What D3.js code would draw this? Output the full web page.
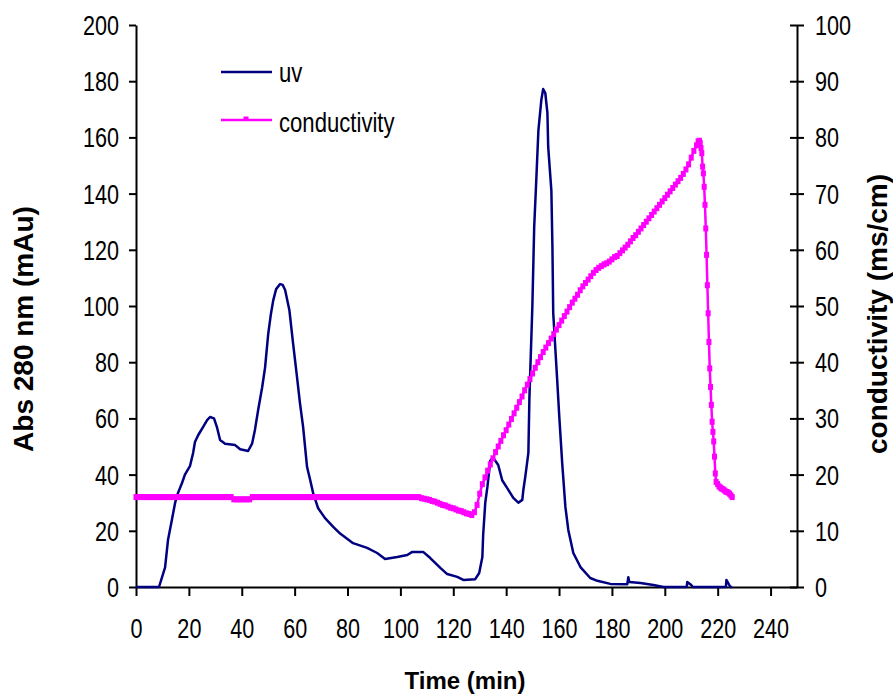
<!DOCTYPE html>
<html><head><meta charset="utf-8">
<script src="https://cdn.jsdelivr.net/npm/d3@7"></script>
<style>body{margin:0;background:#fff}</style>
</head><body>
<svg id="c" width="893" height="697"></svg>
<script>
const xTicks = [0,20,40,60,80,100,120,140,160,180,200,220,240];
const leftTicks = [0,20,40,60,80,100,120,140,160,180,200];
const rightTicks = [0,10,20,30,40,50,60,70,80,90,100];
const seriesNames = ["uv","conductivity"];
const axisTitles = ["Time (min)","Abs 280 nm (mAu)","conductivity (ms/cm)"];

const uvTime = [0,8.7,11,12.1,13.6,14.8,15.9,17.4,18.5,20.4,21.6,22.3,23.5,25.4,26.9,28,29.5,30.7,31.8,33.7,37.5,39.4,42.4,43.9,45,46.2,47.7,48.8,50,51,51.9,53,54.5,55.5,56.4,58,59.4,60.9,62,63.2,64.7,65.9,67,68.9,71.5,74.6,77.2,82.1,87.4,91.2,94.2,98.8,102.6,104.5,108.6,111.3,115.1,117.7,121.5,123.8,128.3,129.8,131,131.3,132.1,132.9,134,135.1,137,138.5,140.4,142.7,144.6,146.1,146.5,147.2,148.4,148.8,149.9,150.6,151.4,152.2,153.3,154,154.8,155.6,155.9,157.1,157.5,157.8,159.3,160.1,161.2,162.4,163.5,165.4,168.1,171.8,174.5,179.4,185.8,186.2,186.6,190.8,195.7,199.5,208.3,208.5,210,210.6,223.1,223.3,224.8,225.5];
const uvAbs = [0,0,7,16.7,24,30,33.5,37,40,43,47.7,51.6,54,57,59.4,60.5,60,56.6,52.3,51,50.5,49,48.4,51,56,63,71,78,90,97,102,106,107.8,107.5,105.7,98.6,86.8,74.7,65.5,57,42.7,38,33.4,28,24.5,21.4,19,15.6,13.9,12.1,10,10.7,11.4,12.5,12.5,10.3,6.8,4.6,3.6,2.5,2.8,5,10.7,18.5,30,35.6,45,46,43.4,38,35.2,31.7,30,31,34.5,39,47.7,67.6,99.6,128,145,162.6,173.3,177.2,175.8,168.7,156.6,141,121,97.5,73.7,60.5,44,28.5,20.3,12.1,7.1,3.2,2.2,1.1,1,3.5,1.8,1.4,0.7,0,0,1.8,0.7,0,0,2.5,0,0];

const condTime = [
0,1,2,3,4,5,6,7,8,9,10,11,12,13,14,15,16,17,18,19,20,21,22,23,24,25,26,27,28,29,
30,31,32,33,34,35,36,37,38,39,40,41,42,43,44,45,46,47,48,49,50,51,52,53,54,55,56,57,58,59,
60,61,62,63,64,65,66,67,68,69,70,71,72,73,74,75,76,77,78,79,80,81,82,83,84,85,86,87,88,89,
90,91,92,93,94,95,96,97,98,99,100,101,102,103,104,105,106,107,108,109,110,111,112,113,114,115,116,117,118,119,
120,121,122,123,124,125,126,127,128,129,130,131,132,133,134,135,136,137,138,139,140,141,142,143,144,145,146,147,148,149,
150,151,152,153,154,155,156,157,158,159,160,161,162,163,164,165,166,167,168,169,170,171,172,173,174,175,176,177,178,179,
180,181,182,183,184,185,186,187,188,189,190,191,192,193,194,195,196,197,198,199,200,201,202,203,204,205,206,207,208,209,
210,211,212,212.6,213.1,213.4,213.7,214,214.3,214.6,214.9,215.2,215.5,215.8,216.1,216.4,216.7,217,217.3,217.6,217.9,218.2,218.5,218.8,219.1,219.4,
220,220.5,221,221.5,222,222.5,223,223.5,224,224.5,225,225.5];
const condValue = [
16,16,16,16,16,16,16,16,16,16,16,16,16,16,16,16,16,16,16,16,16,16,16,16,16,16,16,16,16,16,
16,16,16,16,16,16,16,15.6,15.6,15.6,15.6,15.6,15.6,15.6,16,16,16,16,16,16,16,16,16,16,16,16,16,16,16,16,
16,16,16,16,16,16,16,16,16,16,16,16,16,16,16,16,16,16,16,16,16,16,16,16,16,16,16,16,16,16,
16,16,16,16,16,16,16,16,16,16,16,16,16,16,16,16,16,16,15.8,15.7,15.6,15.5,15.3,15.2,15,14.8,14.6,14.5,14.3,14.1,
14,13.8,13.6,13.5,13.3,13.1,13,12.8,13.3,14.6,16.6,18.3,19.5,20.7,21.8,22.9,24,25,26,27,27.9,28.9,29.9,30.9,31.9,32.9,33.9,35,36,37,
38,39,40,40.9,41.8,42.6,43.4,44.2,45,45.8,46.6,47.4,48.2,49,49.8,50.6,51.3,52,52.8,53.5,54.1,54.7,55.3,55.9,56.4,56.8,57.1,57.4,57.6,57.9,
58.3,58.7,58.9,59.4,59.9,60.4,60.9,61.5,62.1,62.6,63.2,63.8,64.4,65,65.6,66.2,66.8,67.4,68,68.6,69.2,69.8,70.4,71,71.6,72.2,72.8,73.5,74.3,75.2,
76.4,77.6,78.6,79.3,79.4,79,78.1,77.2,74.8,73.6,71.2,68,63.8,59.1,53.7,48.7,43.6,38.9,35.6,32.4,29.4,27.6,25.9,23.2,20.2,18.7,
18.3,17.9,17.7,17.5,17.4,17.2,17,16.9,16.8,16.6,16.3,16];

const UV_COLOR = "#000080", COND_COLOR = "#FF00FF";
const FONT = '"Liberation Sans", Arial, Helvetica, sans-serif';
const SX = 0.8;

const svg = d3.select("#c");
const x = d3.scaleLinear().domain([0,250]).range([136,797]);
const yL = d3.scaleLinear().domain([0,200]).range([587,25]);
const yR = d3.scaleLinear().domain([0,100]).range([587,25]);

// axes
const gx = svg.append("g").attr("transform","translate(0,587)")
  .call(d3.axisBottom(x).tickValues(xTicks).tickSizeInner(9).tickSizeOuter(0).tickFormat(d3.format("d")));
const gl = svg.append("g").attr("transform","translate(136,0)")
  .call(d3.axisLeft(yL).tickValues(leftTicks).tickSizeInner(7).tickSizeOuter(0).tickFormat(d3.format("d")));
const gr = svg.append("g").attr("transform","translate(797,0)")
  .call(d3.axisRight(yR).tickValues(rightTicks).tickSizeInner(7).tickSizeOuter(0).tickFormat(d3.format("d")));
gr.selectAll(".tick line").attr("x1",-7).attr("x2",7);

[gx,gl,gr].forEach(g=>{
  g.attr("font-family",FONT).attr("font-size",27);
  g.selectAll("path.domain").attr("stroke","#000").attr("stroke-width",2);
  g.selectAll(".tick line").attr("stroke","#000").attr("stroke-width",2);
  g.selectAll(".tick text").attr("fill","#000").attr("transform",`scale(${SX},1)`);
});
gx.selectAll(".tick text").attr("y",51).attr("dy",0);
gl.selectAll(".tick text").attr("x",-17/SX).attr("dy","0.35em");
gr.selectAll(".tick text").attr("x",18/SX).attr("dy","0.35em");

// uv series
const uvIdx = d3.range(uvTime.length);
svg.append("path")
  .attr("d", d3.line().x(i=>x(uvTime[i])).y(i=>yL(uvAbs[i]))(uvIdx))
  .attr("fill","none").attr("stroke",UV_COLOR).attr("stroke-width",2.5)
  .attr("stroke-linejoin","round");

// conductivity series
const cIdx = d3.range(condTime.length);
svg.append("path")
  .attr("d", d3.line().x(i=>x(condTime[i])).y(i=>yR(condValue[i]))(cIdx))
  .attr("fill","none").attr("stroke",COND_COLOR).attr("stroke-width",2.5);
svg.append("g").selectAll("rect").data(cIdx).join("rect")
  .attr("x", i=>x(condTime[i])-2.5).attr("y", i=>yR(condValue[i])-3)
  .attr("width",5).attr("height",6).attr("fill",COND_COLOR);

// legend
const lg = svg.append("g").attr("font-family",FONT).attr("font-size",27).attr("fill","#000");
lg.append("line").attr("x1",221).attr("x2",272).attr("y1",72).attr("y2",72)
  .attr("stroke",UV_COLOR).attr("stroke-width",2.5);
lg.append("text").attr("x",279/0.82).attr("y",82).attr("transform","scale(0.82,1)").text(seriesNames[0]);
lg.append("line").attr("x1",221).attr("x2",272).attr("y1",120).attr("y2",120)
  .attr("stroke",COND_COLOR).attr("stroke-width",2.5);
lg.append("rect").attr("x",243.5).attr("y",116.5).attr("width",5).attr("height",4).attr("fill",COND_COLOR);
lg.append("text").attr("x",279/0.82).attr("y",132).attr("transform","scale(0.82,1)").text(seriesNames[1]);

// axis titles
svg.append("text").attr("x",465).attr("y",689).attr("text-anchor","middle")
  .attr("font-family",FONT).attr("font-weight","bold").attr("font-size",24).text(axisTitles[0]);
svg.append("text").attr("transform","translate(33,329) rotate(-90)").attr("text-anchor","middle")
  .attr("font-family",FONT).attr("font-weight","bold").attr("font-size",28).text(axisTitles[1]);
svg.append("text").attr("transform","translate(887,314) rotate(-90)").attr("text-anchor","middle")
  .attr("font-family",FONT).attr("font-weight","bold").attr("font-size",28).text(axisTitles[2]);
</script>
</body></html>
